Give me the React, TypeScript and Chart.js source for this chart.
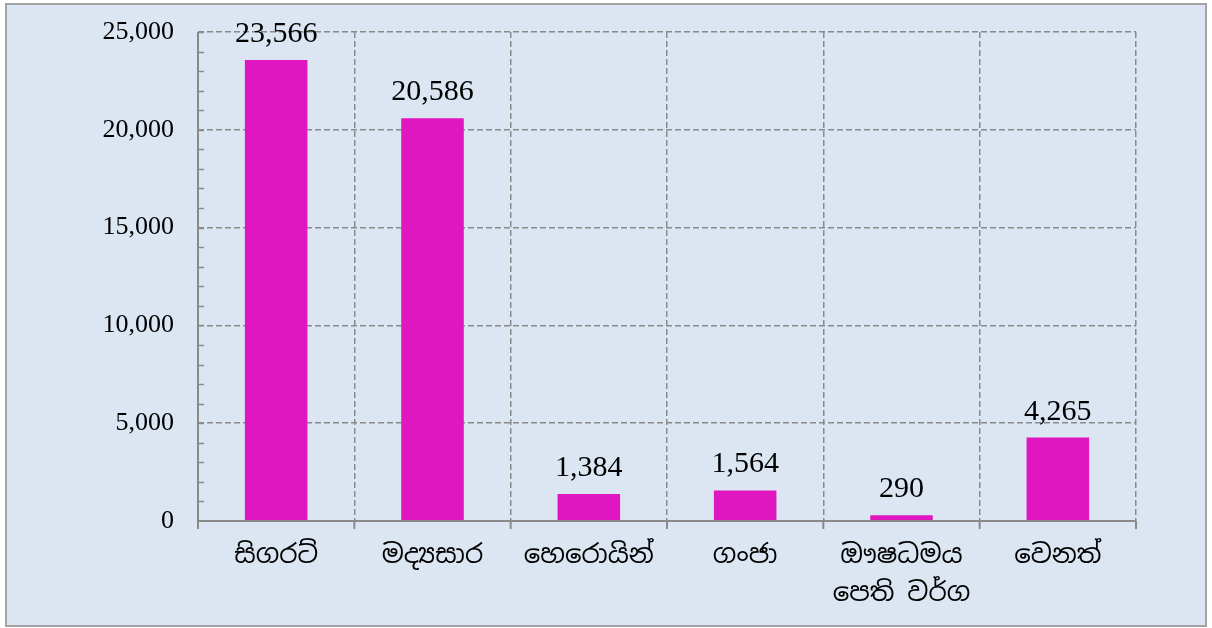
import React, { useEffect, useRef } from "react";
import { Chart, registerables } from "chart.js";

Chart.register(...registerables);

const categories: (string | string[])[] = [
  "සිගරට්",
  "මද්‍යසාර",
  "හෙරොයින්",
  "ගංජා",
  ["ඖෂධමය", "පෙති වර්ග"],
  "වෙනත්",
];
const values: number[] = [23566, 20586, 1384, 1564, 290, 4265];
const yMax = 25000;
const yStep = 5000;
const yMinorStep = 1000;

const BAR_COLOR = "#e016c0";
const AXIS_COLOR = "#8a8a8a";
const SERIF = "'Liberation Serif', 'Times New Roman', serif";
const SINHALA = "'Iskoola Pota', 'Noto Sans Sinhala', 'Noto Serif Sinhala', 'Liberation Serif', serif";

const fmt = (v: number) => v.toLocaleString("en-US");

const axesPlugin = {
  id: "customAxes",
  afterDatasetsDraw(chart: any) {
    const { ctx, chartArea } = chart;
    const y = chart.scales.y;
    const n = categories.length;
    const w = (chartArea.right - chartArea.left) / n;
    ctx.save();
    ctx.strokeStyle = AXIS_COLOR;
    ctx.lineWidth = 2;
    ctx.setLineDash([]);
    // y axis line
    ctx.beginPath();
    ctx.moveTo(chartArea.left, chartArea.top);
    ctx.lineTo(chartArea.left, chartArea.bottom + 8);
    ctx.stroke();
    // x axis line
    ctx.beginPath();
    ctx.moveTo(chartArea.left, chartArea.bottom);
    ctx.lineTo(chartArea.right, chartArea.bottom);
    ctx.stroke();
    // x ticks
    for (let i = 1; i <= n; i++) {
      const x = chartArea.left + i * w;
      ctx.beginPath();
      ctx.moveTo(x, chartArea.bottom);
      ctx.lineTo(x, chartArea.bottom + 8);
      ctx.stroke();
    }
    // y minor ticks (inside)
    ctx.lineWidth = 1.5;
    for (let v = yMinorStep; v <= yMax; v += yMinorStep) {
      const py = Math.round(y.getPixelForValue(v)) + 0.5;
      ctx.beginPath();
      ctx.moveTo(chartArea.left, py);
      ctx.lineTo(chartArea.left + 6, py);
      ctx.stroke();
    }
    // data labels
    const meta = chart.getDatasetMeta(0);
    ctx.fillStyle = "#000";
    ctx.font = `30px ${SERIF}`;
    ctx.textAlign = "center";
    ctx.textBaseline = "alphabetic";
    meta.data.forEach((bar: any, i: number) => {
      ctx.fillText(fmt(values[i]), bar.x, bar.y - 18);
    });
    ctx.restore();
  },
};

export default function App() {
  const ref = useRef<HTMLCanvasElement | null>(null);
  useEffect(() => {
    if (!ref.current) return;
    const chart = new Chart(ref.current, {
      type: "bar",
      data: {
        labels: categories,
        datasets: [
          {
            data: values,
            backgroundColor: BAR_COLOR,
            borderWidth: 0,
            categoryPercentage: 1,
            barPercentage: 0.4,
          },
        ],
      },
      options: {
        responsive: false,
        animation: false,
        devicePixelRatio: 1,
        layout: { padding: { left: 0, right: 76, top: 32, bottom: 0 } },
        plugins: { legend: { display: false }, tooltip: { enabled: false } },
        scales: {
          x: {
            grid: {
              offset: true,
              drawTicks: false,
              color: AXIS_COLOR,
              lineWidth: 1.5,
            },
            border: { display: false, dash: [6, 3] },
            ticks: {
              color: "#000",
              padding: 16,
              maxRotation: 0,
              autoSkip: false,
              font: { family: SINHALA, size: 26, lineHeight: 1.45 },
            },
            afterFit: (s: any) => {
              s.height = 107;
              s.paddingLeft = 0;
              s.paddingRight = 0;
            },
          },
          y: {
            min: 0,
            max: yMax,
            grid: {
              drawTicks: false,
              color: AXIS_COLOR,
              lineWidth: 1.5,
            },
            border: { display: false, dash: [6, 3] },
            ticks: {
              stepSize: yStep,
              color: "#000",
              padding: 24,
              font: { family: SERIF, size: 26 },
              callback: (v: any) => fmt(Number(v)),
            },
            afterFit: (s: any) => {
              s.width = 198;
              s.paddingTop = 0;
              s.paddingBottom = 0;
            },
          },
        },
      },
      plugins: [axesPlugin],
    });
    return () => chart.destroy();
  }, []);

  return (
    <div style={{ position: "relative", width: 1212, height: 628 }}>
      <style>{`body{margin:0;}`}</style>
      <div
        style={{
          position: "absolute",
          left: 5,
          top: 3,
          width: 1198,
          height: 620,
          background: "#dce6f2",
          border: "2px solid #a3a3a3",
        }}
      />
      <canvas
        ref={ref}
        width={1212}
        height={628}
        style={{ position: "absolute", left: 0, top: 0, width: 1212, height: 628 }}
      />
    </div>
  );
}
